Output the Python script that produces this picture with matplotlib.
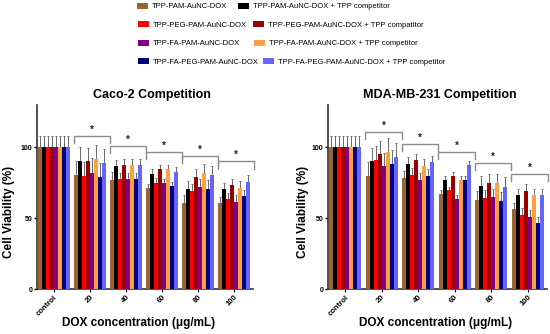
import numpy as np
import matplotlib
matplotlib.use("Agg")
import matplotlib.pyplot as plt
from matplotlib.patches import Patch

plt.rcParams["font.family"] = ["Liberation Sans", "DejaVu Sans"]

# ======================================================
# DATA
# ======================================================

groups = ["control", "20", "40", "60", "80", "100"]

series = [
    "TPP-PAM-AuNC-DOX",
    "TPP-PAM-AuNC-DOX + TPP competitor",
    "TPP-PEG-PAM-AuNC-DOX",
    "TPP-PEG-PAM-AuNC-DOX + TPP compatitor",
    "TPP-FA-PAM-AuNC-DOX",
    "TPP-FA-PAM-AuNC-DOX + TPP competitor",
    "TPP-FA-PEG-PAM-AuNC-DOX",
    "TPP-FA-PEG-PAM-AuNC-DOX + TPP competitor",
]

colors = ["#996633", "#000000", "#ff0000", "#990000",
          "#800080", "#ffa040", "#000080", "#6666ff"]

# rows = groups, columns = series
caco_vals = [
    [100, 100, 100, 100, 100, 100, 100, 100],
    [80.7, 90.6, 80.0, 90.2, 81.9, 91.8, 79.0, 89.0],
    [76.7, 86.6, 77.8, 87.8, 77.8, 87.8, 77.5, 87.8],
    [71.2, 81.4, 75.2, 84.9, 74.8, 84.9, 72.9, 83.0],
    [60.6, 70.5, 68.9, 78.8, 72.0, 82.3, 70.5, 80.7],
    [60.6, 70.5, 63.7, 73.6, 61.8, 71.7, 65.8, 75.5],
]
caco_err = [
    [8, 8, 8, 8, 8, 8, 8, 8],
    [10, 10, 10, 9.5, 11, 10, 10, 10],
    [6, 4.7, 4, 4.2, 4, 4, 4.5, 4],
    [2.8, 3.3, 3, 3, 3, 3, 3, 3],
    [6, 6, 5.4, 6, 5.6, 6.2, 6.5, 6.3],
    [4.3, 4.7, 4, 4.3, 4.7, 4.3, 4.3, 5.2],
]
caco_sig = [None, 107.8, 101.2, 96.7, 94.3, 90.1]

mda_vals = [
    [100, 100, 100, 100, 100, 100, 100, 100],
    [80.0, 90.1, 91.3, 95.5, 87.0, 96.7, 88.5, 93.2],
    [78.3, 88.5, 80.7, 90.8, 77.1, 87.0, 80.0, 89.7],
    [67.2, 77.1, 69.6, 80.0, 63.7, 76.8, 77.1, 87.3],
    [63.0, 73.1, 64.6, 74.8, 64.9, 74.8, 62.5, 72.4],
    [56.4, 66.5, 52.4, 69.4, 51.2, 66.5, 46.5, 66.5],
]
mda_err = [
    [8, 8, 8, 8, 8, 8, 8, 8],
    [9.7, 9.5, 10, 8.8, 9, 10, 10, 10],
    [5, 4.7, 4.7, 4.7, 4.8, 4.7, 4.7, 4.4],
    [2.8, 2.9, 2.8, 2.6, 2.8, 3, 3, 2.8],
    [5.9, 6.4, 5.4, 6.4, 6, 6.4, 6, 6.6],
    [4.2, 4.3, 4.7, 4.7, 4.7, 4.3, 4.7, 4.3],
]
mda_sig = [None, 110.9, 102.6, 96.7, 89.0, 81.4]

# ======================================================
# FIGURE
# ======================================================

W, H = 550, 334
fig = plt.figure(figsize=(W / 100, H / 100), dpi=100)


def px(x0, y_top, x1, y_bot):
    return [x0 / W, 1 - y_bot / H, (x1 - x0) / W, (y_bot - y_top) / H]


ax1 = fig.add_axes(px(37, 105, 253, 289))
ax2 = fig.add_axes(px(328, 105, 547, 289))

bw = 0.11
offsets = (np.arange(8) - 3.5) * bw


def draw_panel(ax, vals, err, sig):
    vals = np.array(vals)
    err = np.array(err)
    xg = np.arange(len(groups))
    for j in range(8):
        xs = xg + offsets[j]
        ax.bar(xs, vals[:, j], width=bw, color=colors[j], zorder=3,
               linewidth=0)
        ax.errorbar(xs, vals[:, j],
                    yerr=[np.zeros(len(groups)), err[:, j]],
                    fmt="none", ecolor="#6a6a6a", elinewidth=0.7,
                    capsize=1.0, capthick=0.7, zorder=2)
    for i, h in enumerate(sig):
        if h is None:
            continue
        xl, xr = xg[i] - 0.45, xg[i] + 0.55
        ax.plot([xl, xl, xr, xr], [h - 5, h, h, h - 5],
                color="#8c8c8c", lw=1.0, zorder=4, clip_on=False)
        ax.text((xl + xr) / 2, h + 0.8, "*", ha="center", va="bottom",
                fontsize=7, fontweight="bold", color="#222222")

    ax.set_xlim(-0.47, 5.53)
    ax.set_ylim(0, 130)
    ax.set_yticks([0, 50, 100])
    ax.set_xticks(xg)
    ax.set_xticklabels(groups, rotation=45, ha="right",
                       rotation_mode="anchor", fontsize=5.5,
                       fontweight="bold")
    for lab in ax.get_yticklabels():
        lab.set_fontsize(5)
        lab.set_fontweight("bold")
    ax.tick_params(axis="y", length=2.5, width=1, pad=1)
    ax.tick_params(axis="x", length=2, width=0.8, pad=1.5)
    for s in ["top", "right"]:
        ax.spines[s].set_visible(False)
    for s in ["left", "bottom"]:
        ax.spines[s].set_linewidth(1.2)
        ax.spines[s].set_color("#333333")


draw_panel(ax1, caco_vals, caco_err, caco_sig)
draw_panel(ax2, mda_vals, mda_err, mda_sig)

# titles and labels
fig.text(152 / W, 1 - 95 / H, "Caco-2 Competition", ha="center",
         va="center", fontsize=9, fontweight="bold")
fig.text(440 / W, 1 - 95 / H, "MDA-MB-231 Competition", ha="center",
         va="center", fontsize=9, fontweight="bold")

for xc in [139, 436]:
    fig.text(xc / W, 1 - 323 / H, "DOX concentration (\u03bcg/mL)",
             ha="center", va="center", fontsize=8.5, fontweight="bold")
for xc in [9, 303]:
    fig.text(xc / W, 1 - 212 / H, "Cell Viability (%)", rotation=90,
             ha="center", va="center", fontsize=8.5, fontweight="bold")

# legend, two items per row placed as in the original
leg_x = [137, 238, 138, 253, 138, 254, 138, 263]
leg_y = [6.5, 6.5, 25, 25, 43.5, 43.5, 62, 62]
for k in range(8):
    fig.legend(handles=[Patch(facecolor=colors[k], edgecolor="none")],
               labels=[series[k]], loc="center left",
               bbox_to_anchor=(leg_x[k] / W, 1 - leg_y[k] / H),
               frameon=False, borderpad=0, borderaxespad=0,
               handlelength=1.4, handleheight=0.8, handletextpad=0.6,
               prop={"size": 5.5})

fig.savefig("out.png", dpi=100)
